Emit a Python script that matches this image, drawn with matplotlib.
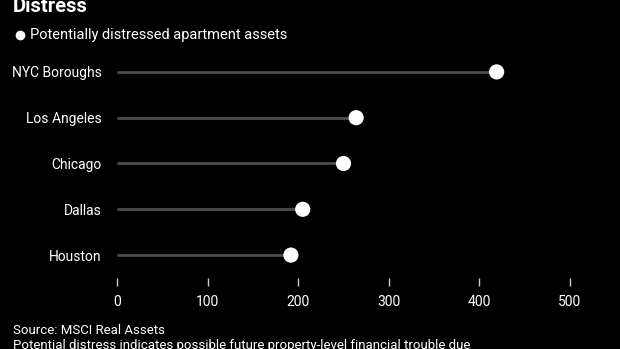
import matplotlib.pyplot as plt
from matplotlib.lines import Line2D

# Potentially distressed apartment assets by metro
cities = ["NYC Boroughs", "Los Angeles", "Chicago", "Dallas", "Houston"]
distressed = [419, 264, 250, 205, 192]
ticks = [0, 100, 200, 300, 400, 500]

plt.rcParams["font.family"] = ["Roboto", "DejaVu Sans"]

W, H = 620, 349
fig = plt.figure(figsize=(W / 100, H / 100), dpi=100, facecolor="black")
ax = fig.add_axes([117 / W, 1 - 278 / H, 453 / W, 229 / H], facecolor="black")

ypos = list(range(len(cities)))[::-1]
ax.hlines(ypos, 0, distressed, color="#4d4d4d", lw=2, zorder=1)
ax.scatter(distressed, ypos, s=120, color="white", zorder=2, edgecolors="none")

ax.set_xlim(0, 500)
ax.set_ylim(-0.5, len(cities) - 0.5)
ax.set_xticks(ticks)
ax.set_yticks(ypos)
ax.set_yticklabels(cities)
for s in ax.spines.values():
    s.set_visible(False)
ax.tick_params(axis="x", colors="white", length=6, width=1, direction="out", pad=6, labelsize=10)
ax.tick_params(axis="y", length=0, pad=11, labelcolor="white", labelsize=10)
ax.xaxis.set_tick_params(color="#cccccc")

fig.text(13 / W, 1 - 12 / H, "Distress", color="white", fontsize=14.5, fontweight="bold",
         va="baseline")
# legend key: white dot followed by the series name
fig.add_artist(Line2D([20 / W], [1 - 35 / H], marker="o", markersize=7, color="white",
                      markeredgecolor="none", linestyle="none", transform=fig.transFigure))
fig.text(30 / W, 1 - 35 / H, "Potentially distressed apartment assets", color="white",
         fontsize=10.5, va="center")
fig.text(13 / W, 1 - 331 / H, "Source: MSCI Real Assets", color="white", fontsize=9.5, va="center")
fig.text(13 / W, 1 - 346 / H, "Potential distress indicates possible future property-level financial trouble due",
         color="white", fontsize=9.5, va="center")

fig.savefig("out.png", dpi=100, facecolor="black")
